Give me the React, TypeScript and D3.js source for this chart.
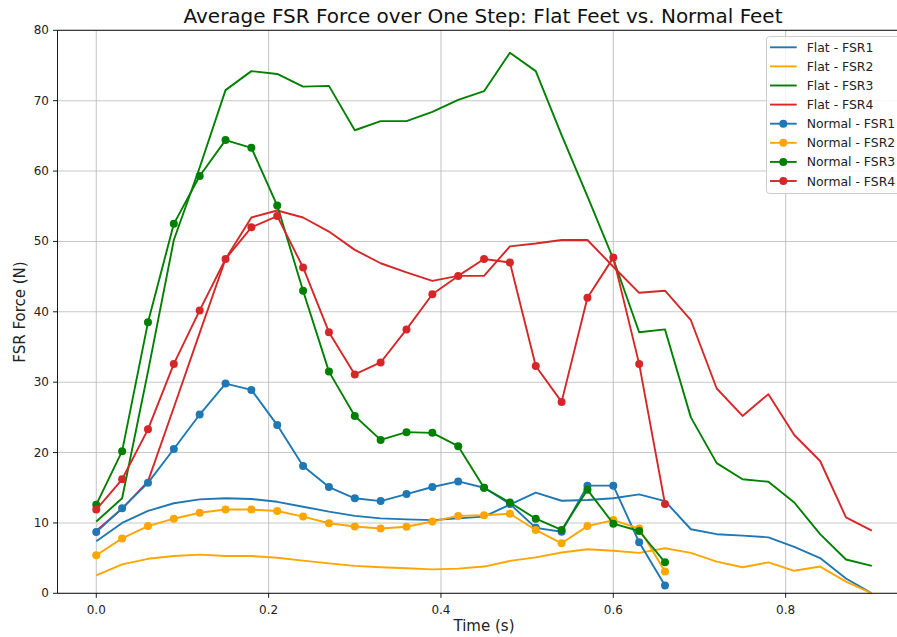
import React from "react";
import * as d3 from "d3";

// Sample times (s)
const flatTimes = [
  0, 0.03, 0.06, 0.09, 0.12, 0.15, 0.18, 0.21, 0.24, 0.27, 0.3, 0.33, 0.36, 0.39, 0.42, 0.45,
  0.48, 0.51, 0.54, 0.57, 0.6, 0.63, 0.66, 0.69, 0.72, 0.75, 0.78, 0.81, 0.84, 0.87, 0.9,
];
const normalTimes = [
  0, 0.03, 0.06, 0.09, 0.12, 0.15, 0.18, 0.21, 0.24, 0.27, 0.3, 0.33, 0.36, 0.39, 0.42, 0.45,
  0.48, 0.51, 0.54, 0.57, 0.6, 0.63, 0.66,
];

// Flat feet average force (N)
const flatFSR1 = [
  7.4, 10.0, 11.7, 12.8, 13.35, 13.5, 13.4, 13.0, 12.3, 11.6, 11.0, 10.65, 10.5, 10.4, 10.65, 10.9,
  12.6, 14.3, 13.15, 13.25, 13.5, 14.05, 13.1, 9.1, 8.4, 8.2, 7.95, 6.6, 5.0, 2.1, 0,
];
const flatFSR2 = [
  2.55, 4.1, 4.9, 5.3, 5.5, 5.3, 5.3, 5.05, 4.65, 4.25, 3.9, 3.7, 3.55, 3.4, 3.5, 3.8,
  4.6, 5.1, 5.8, 6.25, 6.05, 5.75, 6.4, 5.75, 4.5, 3.7, 4.4, 3.2, 3.8, 1.65, 0,
];
const flatFSR3 = [
  10.2, 13.5, 31.5, 50.2, 60.5, 71.5, 74.2, 73.8, 72.0, 72.1, 65.8, 67.1, 67.1, 68.4, 70.1, 71.35,
  76.8, 74.2, 65.1, 56.4, 47.5, 37.1, 37.5, 25.0, 18.5, 16.2, 15.85, 12.9, 8.4, 4.8, 3.9,
];
const flatFSR4 = [
  8.9, 12.0, 15.9, 26.4, 37.0, 47.5, 53.4, 54.4, 53.4, 51.4, 48.8, 46.9, 45.6, 44.4, 45.1, 45.1,
  49.3, 49.7, 50.2, 50.2, 46.4, 42.7, 43.0, 38.8, 29.1, 25.2, 28.3, 22.5, 18.8, 10.8, 8.9,
];

// Normal feet average force (N)
const normalFSR1 = [
  8.7, 12.1, 15.7, 20.5, 25.4, 29.8, 28.9, 23.9, 18.1, 15.1, 13.5, 13.1, 14.1, 15.1, 15.9, 15.0,
  12.7, 9.3, 8.75, 15.3, 15.3, 7.25, 1.1,
];
const normalFSR2 = [
  5.4, 7.8, 9.55, 10.6, 11.45, 11.9, 11.9, 11.7, 10.9, 9.95, 9.5, 9.2, 9.45, 10.2, 11.0, 11.1,
  11.3, 9.0, 7.1, 9.55, 10.4, 9.2, 3.1,
];
const normalFSR3 = [
  12.6, 20.2, 38.5, 52.5, 59.3, 64.4, 63.3, 55.1, 43.0, 31.5, 25.2, 21.8, 22.9, 22.8, 20.9, 15.0,
  12.9, 10.6, 9.0, 14.7, 9.9, 8.85, 4.4,
];
const normalFSR4 = [
  11.9, 16.2, 23.3, 32.6, 40.2, 47.5, 52.0, 53.6, 46.3, 37.1, 31.1, 32.8, 37.5, 42.5, 45.1, 47.5,
  47.0, 32.3, 27.2, 42.0, 47.7, 32.6, 12.7,
];

const xTicks = [0, 0.2, 0.4, 0.6, 0.8];
const yTicks = [0, 10, 20, 30, 40, 50, 60, 70, 80];

const sensorColors = ["#1f77b4", "#ffa500", "#008000", "#d62728"];

type Series = { label: string; times: number[]; values: number[]; color: string; markers: boolean };

const series: Series[] = [
  { label: "Flat - FSR1", times: flatTimes, values: flatFSR1, color: sensorColors[0], markers: false },
  { label: "Flat - FSR2", times: flatTimes, values: flatFSR2, color: sensorColors[1], markers: false },
  { label: "Flat - FSR3", times: flatTimes, values: flatFSR3, color: sensorColors[2], markers: false },
  { label: "Flat - FSR4", times: flatTimes, values: flatFSR4, color: sensorColors[3], markers: false },
  { label: "Normal - FSR1", times: normalTimes, values: normalFSR1, color: sensorColors[0], markers: true },
  { label: "Normal - FSR2", times: normalTimes, values: normalFSR2, color: sensorColors[1], markers: true },
  { label: "Normal - FSR3", times: normalTimes, values: normalFSR3, color: sensorColors[2], markers: true },
  { label: "Normal - FSR4", times: normalTimes, values: normalFSR4, color: sensorColors[3], markers: true },
];

const W = 897;
const H = 637;
const plot = { left: 57.5, right: 910.6, top: 30.3, bottom: 593.3 };
const FONT = "'DejaVu Sans', sans-serif";

export default function App() {
  const x = d3.scaleLinear().domain([-0.045, 0.945]).range([plot.left, plot.right]);
  const y = d3.scaleLinear().domain([0, 80]).range([plot.bottom, plot.top]);

  const lineFor = (s: Series) =>
    d3
      .line<number>()
      .x((_, i) => x(s.times[i]))
      .y((v) => y(v))(s.values) || "";

  const legendX = 766.5;
  const legendY = 36.5;
  const rowH = 19.1;

  return (
    <svg
      width={W}
      height={H}
      style={{ position: "absolute", left: 0, top: 0, background: "#fff" }}
      fontFamily={FONT}
    >
      <rect x={0} y={0} width={W} height={H} fill="#fff" />

      {/* grid */}
      <g stroke="#b0b0b0" strokeOpacity={0.7} strokeWidth={1.1}>
        {xTicks.map((t) => (
          <line key={"gx" + t} x1={x(t)} x2={x(t)} y1={plot.top} y2={plot.bottom} />
        ))}
        {yTicks.map((t) => (
          <line key={"gy" + t} x1={plot.left} x2={plot.right} y1={y(t)} y2={y(t)} />
        ))}
      </g>

      {/* series */}
      {series.map((s) => (
        <g key={s.label}>
          <path d={lineFor(s)} fill="none" stroke={s.color} strokeWidth={1.9} strokeLinejoin="round" />
          {s.markers &&
            s.values.map((v, i) => (
              <circle key={i} cx={x(s.times[i])} cy={y(v)} r={4} fill={s.color} />
            ))}
        </g>
      ))}

      {/* spines */}
      <g stroke="#000" strokeWidth={0.9} fill="none">
        <line x1={plot.left} x2={plot.left} y1={plot.top} y2={plot.bottom} />
        <line x1={plot.left} x2={plot.right} y1={plot.bottom} y2={plot.bottom} />
        <line x1={plot.left} x2={plot.right} y1={plot.top} y2={plot.top} />
      </g>

      {/* x ticks */}
      <g fontSize={12} fill="#222">
        {xTicks.map((t) => (
          <g key={"xt" + t}>
            <line x1={x(t)} x2={x(t)} y1={plot.bottom} y2={plot.bottom + 4.5} stroke="#000" strokeWidth={0.9} />
            <text x={x(t)} y={613.5} textAnchor="middle">
              {d3.format(".1f")(t)}
            </text>
          </g>
        ))}
      </g>

      {/* y ticks */}
      <g fontSize={12} fill="#222">
        {yTicks.map((t) => (
          <g key={"yt" + t}>
            <line x1={plot.left - 4.5} x2={plot.left} y1={y(t)} y2={y(t)} stroke="#000" strokeWidth={0.9} />
            <text x={49} y={y(t)} textAnchor="end" dominantBaseline="central">
              {t}
            </text>
          </g>
        ))}
      </g>

      {/* axis labels */}
      <text x={484} y={631} textAnchor="middle" fontSize={15} fill="#222">
        Time (s)
      </text>
      <text
        transform={`translate(25,312) rotate(-90)`}
        textAnchor="middle"
        fontSize={15}
        fill="#222"
      >
        FSR Force (N)
      </text>

      {/* title */}
      <text x={483} y={23} textAnchor="middle" fontSize={20} fill="#111">
        Average FSR Force over One Step: Flat Feet vs. Normal Feet
      </text>

      {/* legend */}
      <g>
        <rect
          x={legendX}
          y={legendY}
          width={142}
          height={157}
          rx={3}
          fill="#fff"
          fillOpacity={0.8}
          stroke="#cccccc"
          strokeWidth={1}
        />
        {series.map((s, i) => {
          const cy = legendY + 10.8 + i * rowH;
          return (
            <g key={"lg" + s.label}>
              <line x1={770} x2={796.7} y1={cy} y2={cy} stroke={s.color} strokeWidth={1.9} />
              {s.markers && <circle cx={783.3} cy={cy} r={4} fill={s.color} />}
              <text x={806.7} y={cy} dominantBaseline="central" fontSize={12.4} fill="#222">
                {s.label}
              </text>
            </g>
          );
        })}
      </g>
    </svg>
  );
}
